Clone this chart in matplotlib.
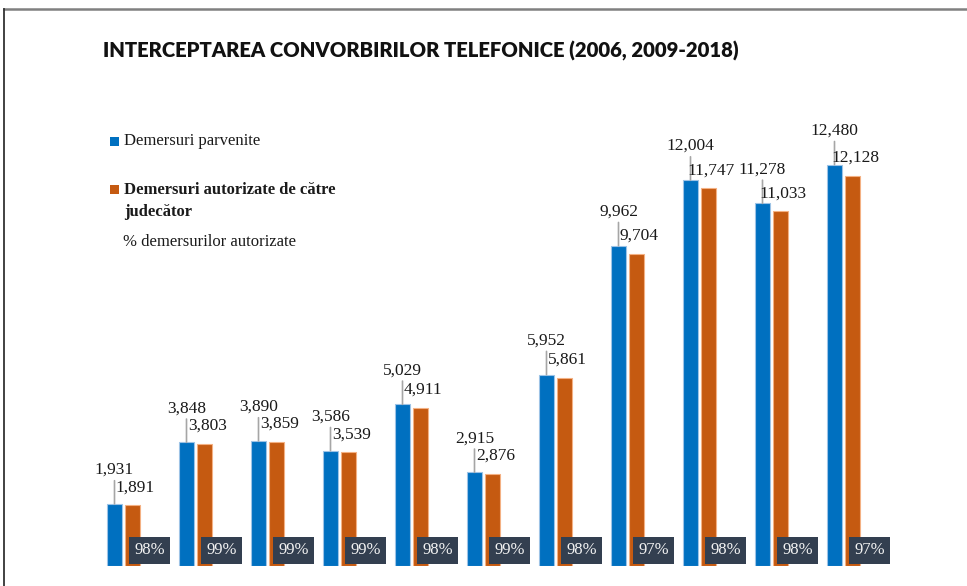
import numpy as np
import matplotlib
matplotlib.use("Agg")
from matplotlib import pyplot as plt
from matplotlib.patches import Rectangle
from matplotlib.lines import Line2D

# Data

years = ["2006", "2009", "2010", "2011", "2012", "2013", "2014", "2015", "2016", "2017", "2018"]
demersuri_parvenite = [1931, 3848, 3890, 3586, 5029, 2915, 5952, 9962, 12004, 11278, 12480]
demersuri_autorizate = [1891, 3803, 3859, 3539, 4911, 2876, 5861, 9704, 11747, 11033, 12128]
procent_autorizate = ["98%", "99%", "99%", "99%", "98%", "99%", "98%", "97%", "98%", "98%", "97%"]

blue = "#0070C0"
orange = "#C55A11"
navy = "#333F50"
serif = ["Liberation Serif", "DejaVu Serif"]

W, H = 967, 586
fig = plt.figure(figsize=(W / 100, H / 100), dpi=100)

# axes placed in pixel terms: baseline at y=566, group spacing 72 px
ax_left, ax_right = 50, 940
ax_bottom, ax_top = 566, 148
ax = fig.add_axes([ax_left / W, (H - ax_bottom) / H, (ax_right - ax_left) / W, (ax_bottom - ax_top) / H])

ymax = 13000
px_x = 1 / 72.0                                 # data units per pixel (x)
px_y = ymax / (ax_bottom - ax_top)              # data units per pixel (y)
x0 = -(123.5 - ax_left) * px_x
ax.set_xlim(x0, x0 + (ax_right - ax_left) * px_x)
ax.set_ylim(0, ymax)
ax.axis("off")

x = np.arange(len(years))
bw = 15 * px_x
off = 9 * px_x

ax.bar(x - off, demersuri_parvenite, width=bw, color=blue, edgecolor="#9DC3E6", linewidth=0.8)
ax.bar(x + off, demersuri_autorizate, width=bw, color=orange, edgecolor="#F4B183", linewidth=0.8)

for i in range(len(years)):
    # value labels
    ax.annotate(f"{demersuri_parvenite[i]:,}", xy=(x[i] - off, demersuri_parvenite[i]),
                xytext=(0, 34 * 0.72), textcoords="offset points", ha="center", va="center",
                fontsize=12.5, family=serif, color="#1a1a1a",
                arrowprops=dict(arrowstyle="-", color="#a6a6a6", lw=1.2, shrinkA=0, shrinkB=0))
    ax.annotate(f"{demersuri_autorizate[i]:,}", xy=(x[i] + off, demersuri_autorizate[i]),
                xytext=(2, 18 * 0.72), textcoords="offset points", ha="center", va="center",
                fontsize=12.5, family=serif, color="#1a1a1a")
    # percentage box
    ax.add_patch(Rectangle((x[i] + 5.5 * px_x, 2 * px_y), 41 * px_x, 27 * px_y,
                           facecolor=navy, edgecolor="none", zorder=3))
    ax.text(x[i] + 26 * px_x, 15.5 * px_y, procent_autorizate[i], ha="center", va="center",
            fontsize=12, family=serif, color="#f2f2f2", zorder=4)

# title
fig.text(103 / W, 1 - 51 / H, "INTERCEPTAREA CONVORBIRILOR TELEFONICE (2006, 2009-2018)",
         fontsize=14.6, fontweight="heavy", family=["Lato", "DejaVu Sans"], color="#111111",
         ha="left", va="center")

# legend drawn by hand
fig.add_artist(Rectangle((110 / W, 1 - 146 / H), 9 / W, 9 / H, transform=fig.transFigure,
                         facecolor=blue, edgecolor="none"))
fig.text(124 / W, 1 - 141 / H, "Demersuri parvenite", fontsize=12, family=serif,
         color="#1a1a1a", ha="left", va="center")
fig.add_artist(Rectangle((110 / W, 1 - 194 / H), 9 / W, 9 / H, transform=fig.transFigure,
                         facecolor=orange, edgecolor="none"))
fig.text(124 / W, 1 - 190 / H, "Demersuri autorizate de către", fontsize=12, family=serif,
         fontweight="bold", color="#1a1a1a", ha="left", va="center")
fig.text(124 / W, 1 - 212 / H, "judecător", fontsize=12, family=serif,
         fontweight="bold", color="#1a1a1a", ha="left", va="center")
fig.text(123 / W, 1 - 242 / H, "% demersurilor autorizate", fontsize=12, family=serif,
         color="#1a1a1a", ha="left", va="center")

# frame lines at top and left
fig.add_artist(Line2D([4 / W, 1], [1 - 9 / H, 1 - 9 / H], color="#808080", lw=1.8))
fig.add_artist(Line2D([4 / W, 4 / W], [0, 1 - 9 / H], color="#333333", lw=1.3))

fig.savefig("out.png", dpi=100)
